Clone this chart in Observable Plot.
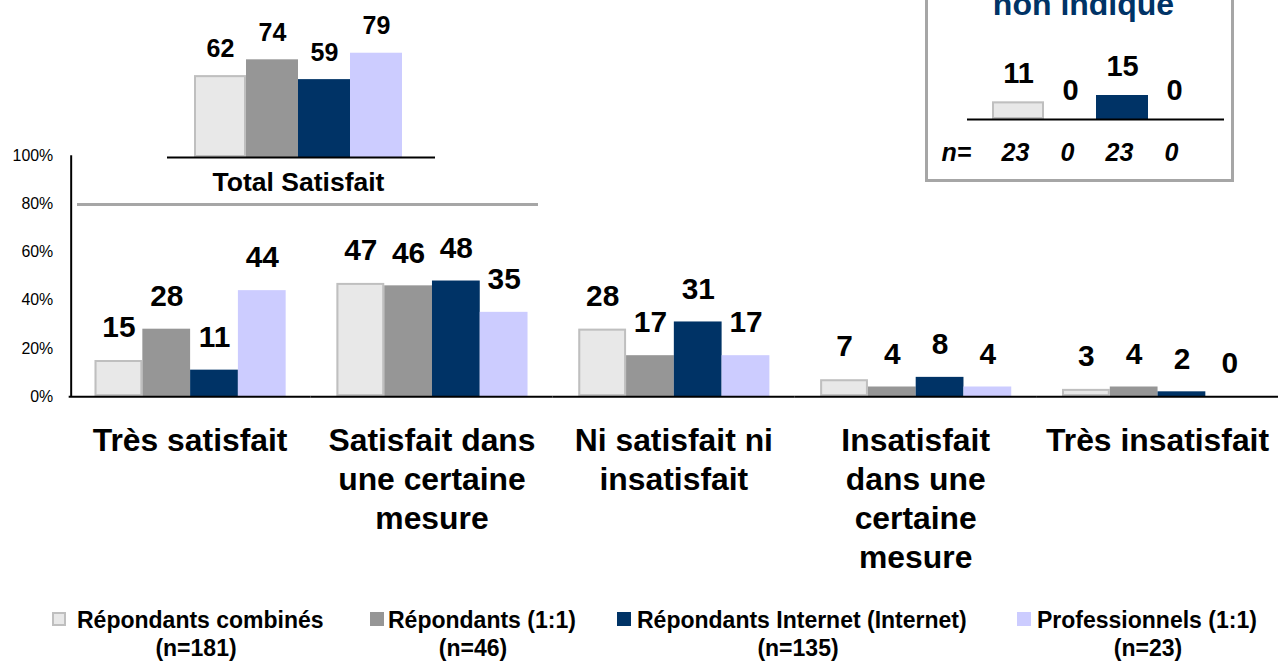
<!DOCTYPE html>
<html>
<head>
<meta charset="utf-8">
<script src="https://cdn.jsdelivr.net/npm/d3@7"></script>
<script src="https://cdn.jsdelivr.net/npm/@observablehq/plot@0.6"></script>
<style>
  html, body { margin: 0; padding: 0; background: #fff; }
  body { font-family: "Liberation Sans", Arial, sans-serif; }
  #wrap { position: relative; width: 1278px; height: 661px; overflow: hidden; }
  .leg { font-size: 23px; font-weight: bold; line-height: 23px; white-space: nowrap; color: #000; }
</style>
</head>
<body>
<div id="wrap"></div>
<script>
// ---------- data ----------
const categories = ["Très satisfait", "Satisfait dans une certaine mesure", "Ni satisfait ni insatisfait", "Insatisfait dans une certaine mesure", "Très insatisfait"];
const categoryLabels = ["Très satisfait", "Satisfait dans\nune certaine\nmesure", "Ni satisfait ni\ninsatisfait", "Insatisfait\ndans une\ncertaine\nmesure", "Très insatisfait"];
const seriesNames = ["Répondants combinés", "Répondants (1:1)", "Répondants Internet (Internet)", "Professionnels (1:1)"];
const seriesN = ["(n=181)", "(n=46)", "(n=135)", "(n=23)"];
const seriesColors = ["#e8e8e8", "#969696", "#003366", "#ccccff"];
const combinedValues = [15, 47, 28, 7, 3];
const oneToOneValues = [28, 46, 17, 4, 4];
const internetValues = [11, 48, 31, 8, 2];
const proValues = [44, 35, 17, 4, 0];
const yTicks = [0, 20, 40, 60, 80, 100];

const totalTitle = "Total Satisfait";
const totalValues = [62, 74, 59, 79];

const missingTitle = "non indiqué";
const missingValues = [11, 0, 15, 0];
const missingN = [23, 0, 23, 0];
const nLabel = "n=";

// ---------- build tables ----------
const seriesValues = [combinedValues, oneToOneValues, internetValues, proValues];
const mainData = categories.flatMap((c, i) => seriesNames.map((s, j) => ({cat: c, series: s, value: seriesValues[j][i]})));
const totalData = seriesNames.map((s, j) => ({series: s, value: totalValues[j]}));
const missingData = seriesNames.map((s, j) => ({series: s, value: missingValues[j], n: missingN[j]}));

const FONT = "'Liberation Sans', Arial, sans-serif";
const colorScale = {domain: seriesNames, range: seriesColors};
const BORDER = "#bfbfbf";
const wrap = document.getElementById("wrap");

function place(el, left, top, z) {
  el.style.position = "absolute";
  el.style.left = left + "px";
  el.style.top = top + "px";
  if (z != null) el.style.zIndex = z;
  wrap.appendChild(el);
  return el;
}

// ---------- main chart ----------
const main = Plot.plot({
  width: 1284, height: 600,
  marginLeft: 68, marginRight: 0, marginTop: 156, marginBottom: 202,
  style: {fontFamily: FONT, fontSize: "16px", background: "transparent", color: "#000", overflow: "visible"},
  fx: {domain: categories, padding: 0, axis: null, label: null},
  x: {domain: seriesNames, paddingInner: 0, paddingOuter: 0.48, axis: null, label: null},
  y: {domain: [0, 100], axis: null, label: null},
  color: colorScale,
  marks: [
    Plot.barY(mainData, {fx: "cat", x: "series", y: "value", fill: "series"}),
    Plot.barY(mainData.filter(d => d.series === seriesNames[0]), {fx: "cat", x: "series", y: "value", fill: seriesColors[0], stroke: BORDER, strokeWidth: 2, inset: 1}),
    Plot.text(mainData, {fx: "cat", x: "series", y: "value", text: d => String(d.value), dy: -33, fontSize: 30, fontWeight: "bold", fill: "#000", lineAnchor: "middle"}),
    Plot.text(categories, {fx: d => d, text: d => categoryLabels[categories.indexOf(d)], frameAnchor: "bottom", lineAnchor: "top", dy: 27.3, fontSize: 32, fontWeight: "bold", lineHeight: 1.22, fill: "#000"}),
    Plot.axisY({ticks: yTicks, tickFormat: d => d + "%", tickSize: 0, tickPadding: 16, anchor: "left", label: null, fill: "#000"}),
    Plot.ruleY([0], {stroke: "#000", strokeWidth: 2}),
    Plot.ruleX([categories[0]], {fx: d => d, x: () => seriesNames[0], y1: 0, y2: 100, dx: -48, stroke: "#000", strokeWidth: 2})
  ]
});
place(main, 0, 0, 1);

// gray separator under the total inset
const sep = document.createElement("div");
sep.style.width = "461px"; sep.style.height = "3px"; sep.style.background = "#a6a6a6";
place(sep, 77, 203, 2);

// ---------- top-left inset: Total Satisfait ----------
const total = Plot.plot({
  width: 300, height: 200,
  marginLeft: 17, marginRight: 15, marginTop: 25, marginBottom: 43,
  style: {fontFamily: FONT, background: "transparent", color: "#000", overflow: "visible"},
  x: {domain: seriesNames, paddingInner: 0, paddingOuter: 0.54, align: 0.45, axis: null},
  y: {domain: [0, 100], axis: null},
  color: colorScale,
  marks: [
    Plot.barY(totalData, {x: "series", y: "value", fill: "series"}),
    Plot.barY(totalData.filter(d => d.series === seriesNames[0]), {x: "series", y: "value", fill: seriesColors[0], stroke: BORDER, strokeWidth: 2, inset: 1}),
    Plot.text(totalData, {x: "series", y: "value", text: d => String(d.value), dy: -27, fontSize: 25, fontWeight: "bold", fill: "#000", lineAnchor: "middle"}),
    Plot.ruleY([0], {stroke: "#000", strokeWidth: 2}),
    Plot.text([totalTitle], {text: d => d, frameAnchor: "bottom", dy: 25, dx: -3, fontSize: 26.5, fontWeight: "bold", fill: "#000", lineAnchor: "middle"})
  ]
});
place(total, 150, 0, 3);

// ---------- top-right inset: non indiqué ----------
const box = document.createElement("div");
box.style.width = "309px"; box.style.height = "202px";
box.style.boxSizing = "border-box";
box.style.border = "3px solid #a6a6a6";
box.style.background = "#fff";
place(box, 925, -20, 4);

const boxTitle = document.createElement("div");
boxTitle.textContent = missingTitle;
boxTitle.style.width = "309px"; boxTitle.style.textAlign = "center";
boxTitle.style.font = "bold 32px " + FONT; boxTitle.style.lineHeight = "32px";
boxTitle.style.color = "#003366";
place(boxTitle, 929, -12.5, 5);

const missing = Plot.plot({
  width: 350, height: 182,
  marginLeft: 67, marginRight: 26, marginTop: 71, marginBottom: 63,
  style: {fontFamily: FONT, background: "transparent", color: "#000", overflow: "visible"},
  x: {domain: seriesNames, paddingInner: 0, paddingOuter: 0.46, axis: null},
  y: {domain: [0, 30], axis: null},
  color: colorScale,
  marks: [
    Plot.barY(missingData, {x: "series", y: "value", fill: "series"}),
    Plot.barY(missingData.filter(d => d.series === seriesNames[0]), {x: "series", y: "value", fill: seriesColors[0], stroke: BORDER, strokeWidth: 2, inset: 1}),
    Plot.text(missingData, {x: "series", y: "value", text: d => String(d.value), dy: -28.5, fontSize: 29, fontWeight: "bold", fill: "#000", lineAnchor: "middle"}),
    Plot.ruleY([0], {stroke: "#000", strokeWidth: 2}),
    Plot.text(missingData, {x: "series", text: d => String(d.n), frameAnchor: "bottom", dy: 33.5, dx: -3, fontSize: 25, fontWeight: "bold", fontStyle: "italic", fill: "#000", lineAnchor: "middle"}),
    Plot.text([nLabel], {text: d => d, frameAnchor: "bottom-left", textAnchor: "start", dx: -26, dy: 33.5, fontSize: 25, fontWeight: "bold", fontStyle: "italic", fill: "#000", lineAnchor: "middle"})
  ]
});
place(missing, 900, 0, 6);

// ---------- legend ----------
const swatchLeft = [52, 370, 617, 1017];
const textLeft = [77, 388, 637, 1037];
const nCenter = [196, 473, 798, 1148];
seriesNames.forEach((s, j) => {
  const sw = document.createElement("div");
  sw.style.width = "14px"; sw.style.height = "14px"; sw.style.boxSizing = "border-box";
  sw.style.background = seriesColors[j];
  if (j === 0) sw.style.border = "2px solid " + BORDER;
  place(sw, swatchLeft[j], 612, 7);
  const t = document.createElement("div");
  t.className = "leg"; t.textContent = s;
  place(t, textLeft[j], 608.8, 7);
  const n = document.createElement("div");
  n.className = "leg"; n.textContent = seriesN[j];
  n.style.transform = "translateX(-50%)";
  place(n, nCenter[j], 637.2, 7);
});
</script>
</body>
</html>
